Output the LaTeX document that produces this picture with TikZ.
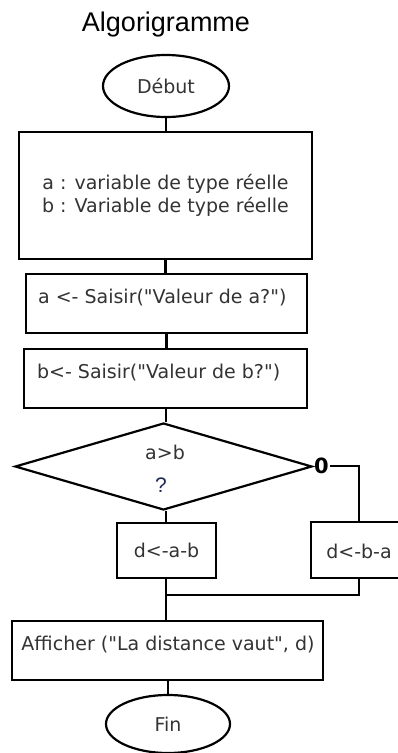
\documentclass[tikz,border=0pt]{standalone}
\usepackage{fontspec}
\setmainfont{DejaVu Sans}[Ligatures=TeXOff]
\newfontfamily\arialfont{Liberation Sans}
\usetikzlibrary{shapes.geometric}
\definecolor{txt}{HTML}{333333}
\definecolor{qmark}{HTML}{1F2A55}
\begin{document}
\begin{tikzpicture}[x=1pt,y=-1pt,line width=2.2pt,
  every node/.style={text=txt,font=\fontsize{19}{23}\selectfont},
  terminal/.style={ellipse,draw=black,inner sep=0pt},
  box/.style={rectangle,draw=black,inner sep=0pt},
  lbl/.style={inner sep=0pt},
  conn/.style={draw=black,line width=2.2pt}]
\useasboundingbox (0,0) rectangle (398,753);
\clip (0,0) rectangle (398,753);
\node[lbl,text=black,font=\arialfont\fontsize{27}{32}\selectfont] (title) at (166,25) {Algorigramme};
\node[terminal,minimum width=126pt,minimum height=62pt] (debut) at (166,86) {Début};
\node[box,minimum width=293pt,minimum height=127pt,align=center] (decl) at (165.5,195.5)
  {a : variable de type réelle\\b : Variable de type réelle};
\node[box,minimum width=281pt,minimum height=59pt] (sa) at (166.5,303.5) {};
\node[lbl,anchor=west] (sat) at (37,298) {a <- Saisir("Valeur de a?")};
\node[box,minimum width=283pt,minimum height=59pt] (sb) at (165.5,378.5) {};
\node[lbl,anchor=west] (sbt) at (36,373) {b<- Saisir("Valeur de b?")};
\node[diamond,draw=black,inner sep=0pt,minimum width=297pt,minimum height=87pt] (test) at (163.5,466.5) {};
\node[lbl] (cond) at (165,452) {a>b};
\node[lbl,text=qmark,font=\arialfont\fontsize{21}{25}\selectfont] (q) at (161,485) {?};
\node[lbl,text=black,font=\bfseries\fontsize{21}{25}\selectfont,anchor=west] (zero) at (313,466) {0};
\node[box,minimum width=99pt,minimum height=55pt] (dab) at (166.5,550.5) {d<-a-b};
\node[box,minimum width=96pt,minimum height=56pt] (dba) at (359,550) {};
\node[lbl] (dbat) at (359,551) {d<-b-a};
\coordinate (m) at (166,595);
\node[box,minimum width=311pt,minimum height=59pt] (aff) at (167.5,650.5) {};
\node[lbl] (afft) at (168,645) {Afficher ("La distance vaut", d)};
\node[terminal,minimum width=124pt,minimum height=58pt] (fin) at (168,724) {Fin};
\draw[conn] (debut.south) -- (decl.north -| debut.south);
\draw[conn] (decl.south) -- (sa.north -| decl.south);
\draw[conn] (sa.south) -- (sb.north -| sa.south);
\draw[conn] (sb.south -| test.north) ++(2.5,0) -- ([xshift=2.5pt]test.north);
\draw[conn] ([xshift=2.5pt]test.south) -- (dab.north -| 166,0);
\draw[conn] (test.east) -- (zero.west);
\draw[conn] (zero.east) -| (dba.north);
\draw[conn] (dab.south -| m) -- (m);
\draw[conn] (dba.south) |- (m);
\draw[conn] (m) -- (aff.north -| m);
\draw[conn] (aff.south -| fin.north) -- (fin.north);
\end{tikzpicture}
\end{document}
